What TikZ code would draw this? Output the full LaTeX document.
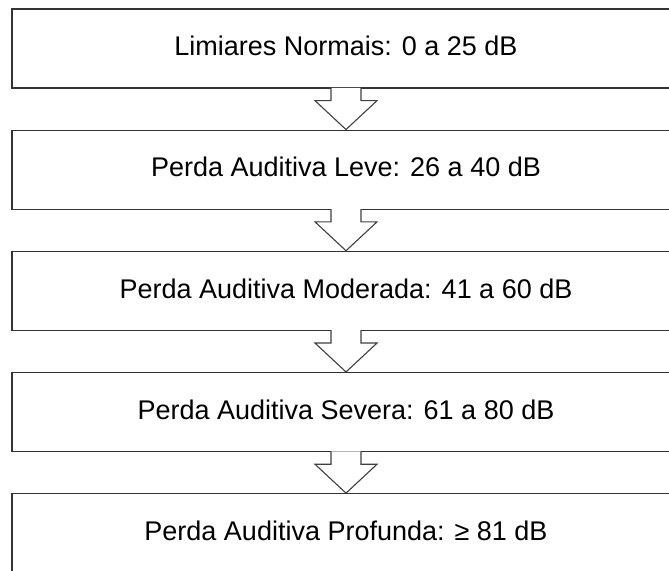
\documentclass[tikz,border=0pt]{standalone}
\usepackage{fontspec}
\setmainfont{Liberation Sans}
\usetikzlibrary{calc}

\tikzset{
  level/.style={draw=black!80, line width=1.3pt, fill=white, rectangle,
    minimum width=668pt, minimum height=79pt, inner sep=0pt,
    text depth=5pt, font=\fontsize{27}{32}\selectfont},
  downarrow/.style={draw=black!75, line width=1.1pt, fill=white, line join=miter},
}

% hollow block arrow hanging from the bottom of box #1 down to box #2
\newcommand{\blockarrow}[2]{%
  \path[downarrow]
    ($(#1.south)+(-15pt,0.8pt)$) -- ($(#1.south)+(-15pt,-12pt)$)
    -- ($(#1.south)+(-31pt,-12pt)$) -- (#2.north)
    -- ($(#1.south)+(31pt,-12pt)$) -- ($(#1.south)+(15pt,-12pt)$)
    -- ($(#1.south)+(15pt,0.8pt)$);
}

\begin{document}
\begin{tikzpicture}[x=1pt,y=1pt]
  \clip (0,0) rectangle (669,570);
  \fill[white] (0,0) rectangle (669,570);

  \node[level] (n1) at (346,521.5) {Limiares Normais: 0 a 25 dB};
  \node[level] (n2) at (346,400.3) {Perda Auditiva Leve: 26 a 40 dB};
  \node[level] (n3) at (346,279.1) {Perda Auditiva Moderada: 41 a 60 dB};
  \node[level] (n4) at (346,157.9) {Perda Auditiva Severa: 61 a 80 dB};
  \node[level] (n5) at (346,36.7)  {Perda Auditiva Profunda: ≥ 81 dB};

  \blockarrow{n1}{n2}
  \blockarrow{n2}{n3}
  \blockarrow{n3}{n4}
  \blockarrow{n4}{n5}
\end{tikzpicture}
\end{document}
